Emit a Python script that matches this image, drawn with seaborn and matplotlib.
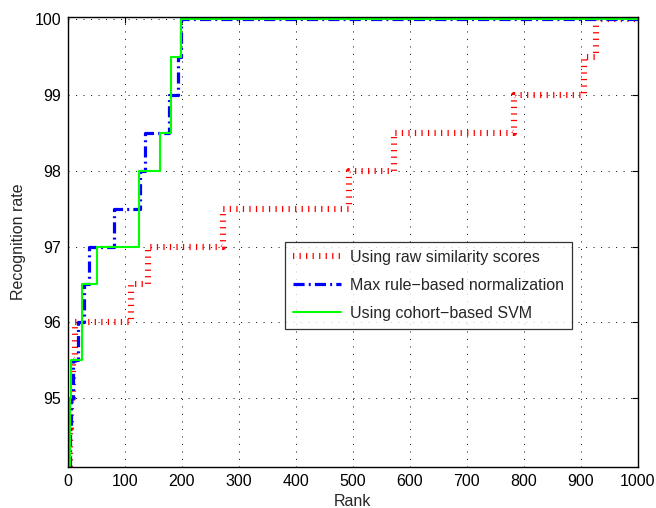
import matplotlib
matplotlib.use("Agg")
import matplotlib.pyplot as plt
import seaborn as sns
import pandas as pd

# ---- data ----
raw_rank = [1, 3, 5, 8, 12, 111, 140, 272, 494, 572, 784, 906, 928, 1000]
raw_rate = [94.1, 94.6, 95.0, 95.5, 96.0, 96.5, 97.0, 97.5, 98.0, 98.5, 99.0, 99.5, 100.0, 100.0]

max_rank = [1, 3, 5, 8, 18, 28, 37, 80, 126, 135, 177, 193, 198, 1000]
max_rate = [94.1, 94.6, 95.0, 95.5, 96.0, 96.5, 97.0, 97.5, 98.0, 98.5, 99.0, 99.5, 100.0, 100.0]

svm_rank = [1, 3, 4, 6, 24, 51, 124, 161, 180, 199, 1000]
svm_rate = [94.1, 94.5, 95.0, 95.5, 96.5, 97.0, 98.0, 98.5, 99.5, 100.0, 100.0]

labels = ["Using raw similarity scores",
          "Max rule\u2212based normalization",
          "Using cohort\u2212based SVM"]
x_ticks = [0, 100, 200, 300, 400, 500, 600, 700, 800, 900, 1000]
y_ticks = [95, 96, 97, 98, 99, 100]

sns.set_style("white")
plt.rcParams["font.family"] = ["Liberation Sans", "DejaVu Sans"]
plt.rcParams["lines.scale_dashes"] = False

FS = 11.5
fig = plt.figure(figsize=(6.56, 5.08), dpi=100)
AX_L, AX_W, AX_T, AX_H = 68, 569.5, 16.7, 450
ax = fig.add_axes([AX_L / 656, 1 - (AX_T + AX_H) / 508, AX_W / 656, AX_H / 508])

series = [
    (raw_rank, raw_rate, labels[0], dict(color=(1, 0, 0), lw=4.4, dashes=(0.9, 3.8))),
    (max_rank, max_rate, labels[1], dict(color=(0, 0, 1), lw=2.3, dashes=(8.0, 3.0, 1.4, 3.0))),
    (svm_rank, svm_rate, labels[2], dict(color=(0, 1, 0), lw=1.5)),
]
for xr, yr, lab, st in series:
    df = pd.DataFrame({"Rank": xr, "Rate": yr})
    kw = dict(st)
    dashes = kw.pop("dashes", None)
    line_kw = {}
    if dashes is not None:
        line_kw["dashes"] = dashes
    sns.lineplot(data=df, x="Rank", y="Rate", ax=ax, estimator=None, sort=False,
                 drawstyle="steps-post", label=lab, **kw, **line_kw)

ax.set_xlim(0, 1000)
ax.set_ylim(94.09, 100.037)
ax.set_xticks(x_ticks)
ax.set_yticks(y_ticks)
ax.set_xticklabels([str(v) for v in x_ticks])
ax.set_yticklabels([str(v) for v in y_ticks])
ax.grid(True, color="black", lw=0.6, linestyle=(0, (0.8, 4.6)))
ax.tick_params(direction="in", length=4, width=0.8, top=True, right=True,
               labelsize=FS, colors="black", pad=5)
for s in ax.spines.values():
    s.set_visible(True)
    s.set_color("black")
    s.set_linewidth(1.0)
ax.set_xlabel("Rank", fontsize=FS, labelpad=4)
ax.set_ylabel("Recognition rate", fontsize=FS, labelpad=6)

leg = ax.legend(loc="upper left",
                bbox_to_anchor=((285 - AX_L) / AX_W, (AX_T + AX_H - 242) / AX_H),
                fontsize=FS, frameon=True, fancybox=False, edgecolor="black",
                handlelength=3.0, labelspacing=0.8, borderpad=0.5, handletextpad=0.6,
                borderaxespad=0)
leg.get_frame().set_linewidth(0.9)

fig.savefig("out.png", dpi=100)
